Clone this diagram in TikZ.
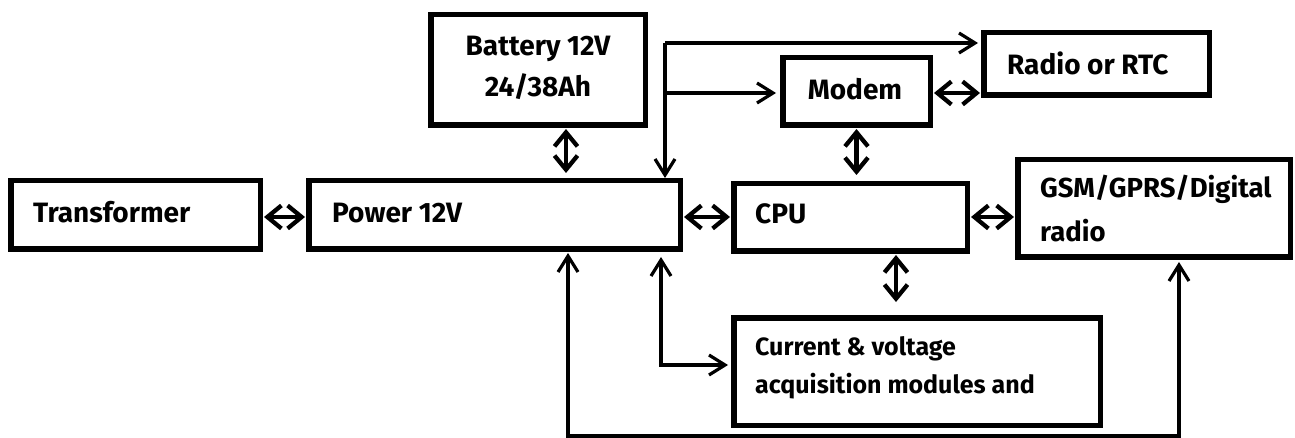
\documentclass[tikz,border=0pt]{standalone}
\usepackage{fontspec}
\setmainfont{Fira Sans}
\usetikzlibrary{arrows.meta}
\begin{document}
\begin{tikzpicture}[x=1pt,y=-1pt,
  box/.style={draw, line width=5.5pt, inner sep=0pt, outer sep=2.75pt},
  lbl/.style={font=\fontsize{28}{30}\selectfont\bfseries, inner sep=0pt, anchor=base west},
  clbl/.style={font=\fontsize{28}{30}\selectfont\bfseries, inner sep=0pt, anchor=base},
  glbl/.style={font=\fontsize{27.5}{30}\selectfont\bfseries, inner sep=0pt, anchor=base west},
  slbl/.style={font=\fontsize{25}{28}\selectfont\bfseries, inner sep=0pt, anchor=base west},
  conn/.style={line width=3.2pt, arrows={-Straight Barb[length=16pt, width=20pt]}},
  conn2/.style={line width=3.2pt, arrows={Straight Barb[length=16pt, width=20pt]-Straight Barb[length=16pt, width=20pt]}},
  dbl/.style={line width=4.3pt, arrows={Straight Barb[length=14pt, width=23pt]-Straight Barb[length=14pt, width=23pt]}}
]
\useasboundingbox (0,0) rectangle (1295,438);
% boxes
\node[box, minimum width=214.5pt, minimum height=110.5pt] (Battery) at (538,70) {};
\node[box, minimum width=249.5pt, minimum height=68.5pt] (Transformer) at (135.5,215) {};
\node[box, minimum width=371.5pt, minimum height=68.5pt] (Power) at (494.5,215) {};
\node[box, minimum width=147.5pt, minimum height=67.5pt] (Modem) at (856.5,91.5) {};
\node[box, minimum width=225.5pt, minimum height=62.5pt] (Radio) at (1096.5,64) {};
\node[box, minimum width=233.5pt, minimum height=67.5pt] (CPU) at (850.5,217.5) {};
\node[box, minimum width=272.5pt, minimum height=97.5pt] (GSM) at (1154,208.5) {};
\node[box, minimum width=366.5pt, minimum height=107.5pt] (Current) at (917,371.5) {};
% texts
\node[clbl] (tBat1) at (538,56) {Battery 12V};
\node[clbl] (tBat2) at (538,97) {24/38Ah};
\node[lbl] (tTr) at (33,223) {Transformer};
\node[lbl] (tPw) at (332,223) {Power 12V};
\node[clbl] (tMo) at (855,100) {Modem};
\node[lbl] (tRa) at (1007,75) {Radio or RTC};
\node[lbl] (tCPU) at (755,224) {CPU};
\node[glbl] (tGSM1) at (1040,198) {GSM/GPRS/Digital};
\node[glbl] (tGSM2) at (1040,242) {radio};
\node[slbl] (tCu1) at (755,355) {Current \& voltage};
\node[slbl] (tCu2) at (755,393) {acquisition modules and};
% helper coordinates
\coordinate (bx) at (566,0);
\coordinate (j1) at (665,43);
\coordinate (j2) at (665,93);
\coordinate (ex) at (896,0);
\coordinate (py) at (0,217);
\coordinate (px) at (661,365);
\coordinate (bl) at (568,436);
\coordinate (gx) at (1179,0);
% connectors
\draw[dbl, shorten <=1pt, shorten >=1pt] (Transformer.east |- py) -- (Power.west |- py);
\draw[dbl, shorten <=1pt, shorten >=5pt] (Battery.south -| bx) -- (Power.north -| bx);
\draw[conn] (j1) -- (Power.north -| j1);
\draw[conn, shorten >=3pt] (j1) -- (Radio.west |- j1);
\draw[conn, shorten >=4pt] (j2) -- (Modem.west |- j2);
\draw[dbl, shorten <=1pt, shorten >=1pt] (Modem.east |- j2) -- (Radio.west |- j2);
\draw[dbl, shorten <=1pt, shorten >=6pt] (Modem.south) -- (CPU.north -| Modem.south);
\draw[dbl, shorten <=1pt, shorten >=1pt] (Power.east |- py) -- (CPU.west |- py);
\draw[dbl, shorten <=1pt, shorten >=1pt] (CPU.east |- py) -- (GSM.west |- py);
\draw[dbl, shorten <=1pt, shorten >=13pt] (CPU.south -| ex) -- (Current.north -| ex);
\draw[conn2, shorten <=5pt, shorten >=3pt] (Power.south -| px) |- (Current.west |- px);
\draw[conn2, shorten <=1pt, shorten >=2pt] (Power.south -| bl) -- (bl) -| (GSM.south -| gx);
\end{tikzpicture}
\end{document}
